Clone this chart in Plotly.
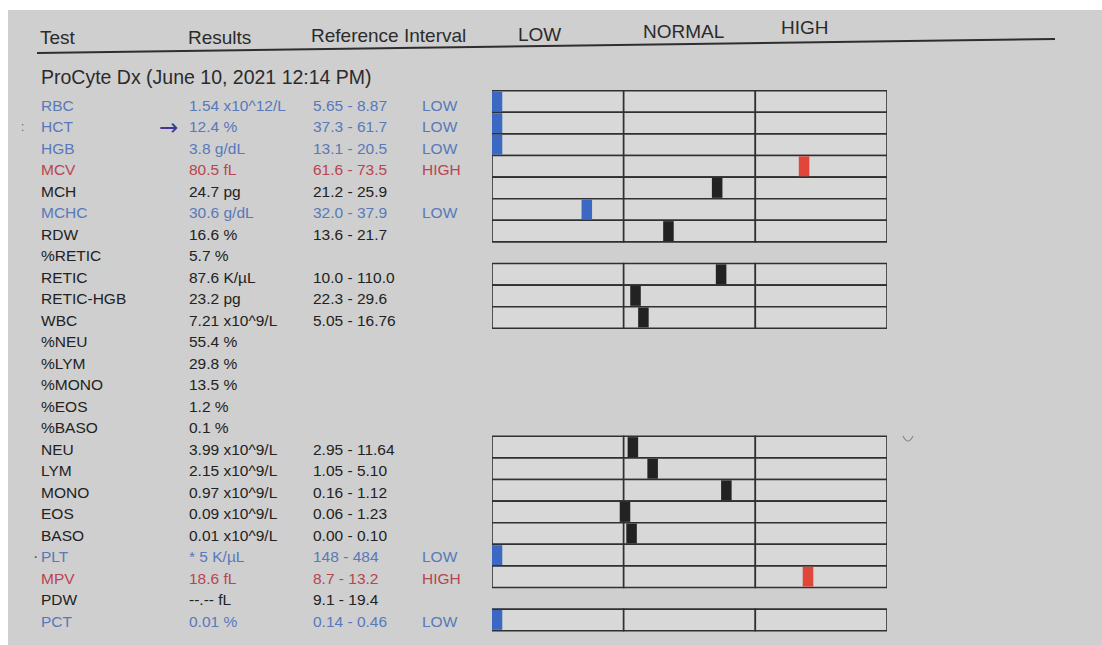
import plotly.graph_objects as go

# ---------------- data ----------------
tests = ["RBC", "HCT", "HGB", "MCV", "MCH", "MCHC", "RDW", "%RETIC", "RETIC", "RETIC-HGB",
         "WBC", "%NEU", "%LYM", "%MONO", "%EOS", "%BASO", "NEU", "LYM", "MONO", "EOS",
         "BASO", "PLT", "MPV", "PDW", "PCT"]
results = ["1.54 x10^12/L", "12.4 %", "3.8 g/dL", "80.5 fL", "24.7 pg", "30.6 g/dL", "16.6 %",
           "5.7 %", "87.6 K/µL", "23.2 pg", "7.21 x10^9/L", "55.4 %", "29.8 %", "13.5 %",
           "1.2 %", "0.1 %", "3.99 x10^9/L", "2.15 x10^9/L", "0.97 x10^9/L", "0.09 x10^9/L",
           "0.01 x10^9/L", "* 5 K/µL", "18.6 fL", "--.-- fL", "0.01 %"]
ref_intervals = ["5.65 - 8.87", "37.3 - 61.7", "13.1 - 20.5", "61.6 - 73.5", "21.2 - 25.9",
                 "32.0 - 37.9", "13.6 - 21.7", "", "10.0 - 110.0", "22.3 - 29.6", "5.05 - 16.76",
                 "", "", "", "", "", "2.95 - 11.64", "1.05 - 5.10", "0.16 - 1.12", "0.06 - 1.23",
                 "0.00 - 0.10", "148 - 484", "8.7 - 13.2", "9.1 - 19.4", "0.14 - 0.46"]
flags = ["LOW", "LOW", "LOW", "HIGH", "", "LOW", "", "", "", "", "", "", "", "", "", "",
         "", "", "", "", "", "LOW", "HIGH", "", "LOW"]
# marker position on the gauge: 0-1 LOW, 1-2 NORMAL, 2-3 HIGH (None = no gauge)
gauge_pos = [0.038, 0.038, 0.038, 2.37, 1.71, 0.72, 1.34, None, 1.74, 1.09,
             1.15, None, None, None, None, None, 1.07, 1.22, 1.78, 1.01,
             1.06, 0.038, 2.40, None, 0.038]
zones = ["LOW", "NORMAL", "HIGH"]
header_cols = ["Test", "Results", "Reference Interval"]
title_text = "ProCyte Dx (June 10, 2021 12:14 PM)"

# ---------------- layout constants ----------------
W, H = 1102, 645
ROW0_TXT, DY_TXT = 105.0, 21.5
ROW0_G, DY_G = 101.5, 21.6
FONT = "Liberation Sans, Arial, sans-serif"
BLACK = "#222222"
BLUE = "#5879ba"
RED = "#b8454f"
PAPER = "#cfcfcf"

def py(p):  # pixel y -> paper y
    return 1 - p / H

def txt_color(flag):
    return BLUE if flag == "LOW" else (RED if flag == "HIGH" else BLACK)

def mark_color(flag):
    return "#3a68c2" if flag == "LOW" else ("#e0463a" if flag == "HIGH" else "#222222")

fig = go.Figure()

# anchor trace for the text axes
fig.add_trace(go.Scatter(x=[None], y=[None], xaxis="x", yaxis="y", showlegend=False,
                         hoverinfo="skip"))

# gauge boxes
g_rows = [i for i, p in enumerate(gauge_pos) if p is not None]
for s, z in enumerate(zones):
    fig.add_trace(go.Bar(
        orientation="h", y=g_rows, x=[1] * len(g_rows), base=[s] * len(g_rows), width=1,
        marker=dict(color="#d8d8d8", line=dict(color="#303030", width=1.6)),
        xaxis="x2", yaxis="y2", showlegend=False, hoverinfo="skip", name=z))

# markers
MW = 0.08
fig.add_trace(go.Bar(
    orientation="h", y=g_rows, x=[MW] * len(g_rows),
    base=[gauge_pos[i] - MW / 2 for i in g_rows], width=0.92,
    marker=dict(color=[mark_color(flags[i]) for i in g_rows], line=dict(width=0)),
    xaxis="x2", yaxis="y2", showlegend=False, hoverinfo="skip"))

ann = []
HDR = dict(family=FONT, size=19, color="#2b2b2b")
# header texts
hdr_x = [38, 186, 309]
hdr_y = [38, 37, 35.5]
for t, x, y in zip(header_cols, hdr_x, hdr_y):
    ann.append(dict(text=t, x=x, y=py(y), xref="x", yref="paper", xanchor="left",
                    yanchor="middle", showarrow=False, font=HDR))
zone_x = [516, 641, 779]
zone_y = [35, 31, 28]
for t, x, y in zip(zones, zone_x, zone_y):
    ann.append(dict(text=t, x=x, y=py(y), xref="x", yref="paper", xanchor="left",
                    yanchor="middle", showarrow=False, font=HDR))
ann.append(dict(text=title_text, x=39, y=py(77), xref="x", yref="paper", xanchor="left",
                yanchor="middle", showarrow=False, font=dict(family=FONT, size=19.5, color="#2b2b2b")))

# rows
for i, name in enumerate(tests):
    c = txt_color(flags[i])
    for txt, x in ((name, 39), (results[i], 187), (ref_intervals[i], 311), (flags[i], 420)):
        if txt:
            ann.append(dict(text=txt, x=x, y=i, xref="x", yref="y", xanchor="left",
                            yanchor="middle", showarrow=False,
                            font=dict(family=FONT, size=15.5, color=c)))

# hand-drawn arrow and small pen marks
ann.append(dict(text="→", x=157, y=1, xref="x", yref="y", xanchor="left", yanchor="middle",
                showarrow=False, font=dict(family="DejaVu Sans", size=23, color="#3a3a92")))
ann.append(dict(text="·", x=31, y=21, xref="x", yref="y", xanchor="left", yanchor="middle",
                showarrow=False, font=dict(family=FONT, size=16, color="#555")))
ann.append(dict(text=":", x=19, y=1, xref="x", yref="y", xanchor="left", yanchor="middle",
                showarrow=False, font=dict(family=FONT, size=12, color="#666")))

shapes = [
    dict(type="rect", xref="x", yref="paper", x0=8, x1=W, y0=0, y1=py(10),
         fillcolor=PAPER, line=dict(width=0), layer="below"),
    dict(type="line", xref="x", yref="paper", x0=37, x1=1055, y0=py(53), y1=py(39),
         line=dict(color="#2e2e2e", width=2)),
    dict(type="path", xref="x", yref="paper",
         path=f"M 903 {py(436)} Q 908 {py(446)} 913 {py(436)}",
         line=dict(color="#8a8a8a", width=1.2)),
]

fig.update_layout(
    width=W, height=H, margin=dict(l=0, r=0, t=0, b=0),
    paper_bgcolor="white", plot_bgcolor="rgba(0,0,0,0)",
    barmode="overlay", showlegend=False,
    xaxis=dict(domain=[0, 1], range=[0, W], visible=False, fixedrange=True),
    yaxis=dict(domain=[0, 1], range=[(H - ROW0_TXT) / DY_TXT, -ROW0_TXT / DY_TXT],
               visible=False, fixedrange=True),
    xaxis2=dict(domain=[492 / W, 887 / W], range=[0, 3], anchor="y2", visible=False,
                fixedrange=True),
    yaxis2=dict(domain=[0, 1], range=[(H - ROW0_G) / DY_G, -ROW0_G / DY_G], anchor="x2",
                visible=False, fixedrange=True),
    annotations=ann, shapes=shapes,
)

fig.write_html("out.html", config={"displayModeBar": False},
               post_script="document.body.style.margin='0';document.body.style.overflow='hidden';")
